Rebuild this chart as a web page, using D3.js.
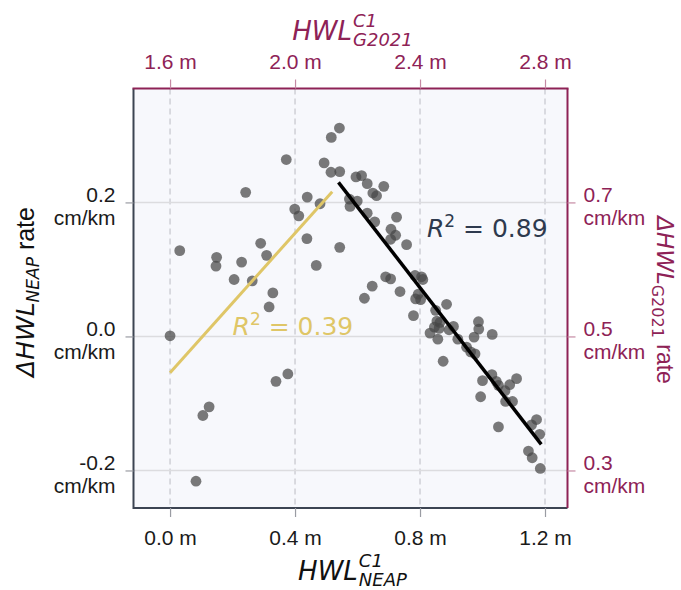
<!DOCTYPE html>
<html>
<head>
<meta charset="utf-8">
<script src="https://cdn.jsdelivr.net/npm/d3@7"></script>
<style>
  body { margin: 0; background: #fff; }
  text { font-family: "Liberation Sans", Arial, sans-serif; }
</style>
</head>
<body>
<div id="chart"></div>
<script>
// HWL (neap) vs. rate of change
const neapX = [0.000, 0.031, 0.083, 0.105, 0.125, 0.149, 0.147, 0.205, 0.229, 0.242,
  0.263, 0.290, 0.309, 0.317, 0.329, 0.339, 0.377, 0.372, 0.399, 0.412,
  0.439, 0.438, 0.468, 0.480, 0.493, 0.516, 0.542, 0.515, 0.543, 0.543,
  0.574, 0.576, 0.599, 0.595, 0.613, 0.631, 0.649, 0.661, 0.684, 0.631,
  0.655, 0.725, 0.707, 0.722, 0.706, 0.757, 0.690, 0.706, 0.647, 0.622,
  0.736, 0.784, 0.805, 0.809, 0.794, 0.786, 0.802, 0.885, 0.779, 0.850,
  0.854, 0.864, 0.846, 0.861, 0.832, 0.857, 0.893, 0.907, 0.987, 0.988,
  0.973, 1.031, 0.921, 0.949, 0.962, 0.976, 0.874, 1.030, 1.000, 1.044,
  1.051, 1.109, 1.087, 1.072, 0.994, 1.096, 1.074, 1.051, 1.173, 1.157,
  1.183, 1.147, 1.159, 1.185];
const neapY = [0.001, 0.128, -0.216, -0.118, -0.105, 0.118, 0.105, 0.085, 0.111, 0.215,
  0.083, 0.139, 0.121, 0.044, 0.065, -0.067, -0.056, 0.264, 0.190, 0.180,
  0.208, 0.146, 0.106, 0.198, 0.259, 0.297, 0.311, 0.245, 0.246, 0.133,
  0.205, 0.194, 0.202, 0.238, 0.240, 0.228, 0.214, 0.210, 0.224, 0.184,
  0.171, 0.178, 0.160, 0.151, 0.145, 0.137, 0.089, 0.086, 0.075, 0.057,
  0.067, 0.091, 0.089, 0.085, 0.063, 0.056, 0.055, 0.048, 0.031, 0.039,
  0.023, 0.021, 0.014, 0.012, 0.005, -0.004, 0.010, 0.015, 0.022, 0.011,
  -0.001, 0.003, -0.004, -0.016, -0.023, -0.026, -0.037, -0.057, -0.066, -0.067,
  -0.073, -0.063, -0.072, -0.081, -0.090, -0.097, -0.097, -0.135, -0.124, -0.132,
  -0.146, -0.171, -0.181, -0.197];

// regression lines (end points)
const lowFitX = [0.000, 0.519];
const lowFitY = [-0.054, 0.216];
const highFitX = [0.539, 1.188];
const highFitY = [0.230, -0.161];
const r2Values = ["0.39", "0.89"];

const bottomTicks = [0.0, 0.4, 0.8, 1.2];
const topTicks = [1.6, 2.0, 2.4, 2.8];
const leftTicks = [-0.2, 0.0, 0.2];
const rightTicks = [0.3, 0.5, 0.7];

const width = 681, height = 590;
const mLeft = 133.5, mRight = 567.5, mTop = 88.5, mBottom = 508;
const maroon = "#8e2256";
const slate = "#3c4452";

const x = d3.scaleLinear().domain([-0.117, 1.272]).range([mLeft, mRight]);
const xTop = d3.scaleLinear().domain([1.483, 2.872]).range([mLeft, mRight]);
const y = d3.scaleLinear().domain([-0.256, 0.370]).range([mBottom, mTop]);
const yRight = d3.scaleLinear().domain([0.244, 0.870]).range([mBottom, mTop]);

const svg = d3.select("#chart").append("svg")
  .attr("width", width).attr("height", height);

svg.append("rect")
  .attr("x", mLeft).attr("y", mTop)
  .attr("width", mRight - mLeft).attr("height", mBottom - mTop)
  .attr("fill", "#f7f8fc");

// grid
svg.append("g").selectAll("line").data(bottomTicks).join("line")
  .attr("x1", d => x(d)).attr("x2", d => x(d))
  .attr("y1", mTop).attr("y2", mBottom)
  .attr("stroke", "#cfd0d6").attr("stroke-width", 1.5)
  .attr("stroke-dasharray", "6,4");
svg.append("g").selectAll("line").data(leftTicks).join("line")
  .attr("x1", mLeft).attr("x2", mRight)
  .attr("y1", d => y(d)).attr("y2", d => y(d))
  .attr("stroke", "#dcdcdf").attr("stroke-width", 1.5);

// points
svg.append("g").selectAll("circle").data(neapX).join("circle")
  .attr("cx", d => x(d))
  .attr("cy", (d, i) => y(neapY[i]))
  .attr("r", 5.4)
  .attr("fill", "#474747")
  .attr("fill-opacity", 0.72);

// fits
const line = d3.line().x(d => x(d[0])).y(d => y(d[1]));
svg.append("path")
  .attr("d", line(d3.zip(lowFitX, lowFitY)))
  .attr("stroke", "#dfc667").attr("stroke-width", 3).attr("fill", "none");
svg.append("path")
  .attr("d", line(d3.zip(highFitX, highFitY)))
  .attr("stroke", "#000").attr("stroke-width", 3.5).attr("fill", "none");

// R^2 labels
function r2Label(px, py, val, color) {
  const t = svg.append("text")
    .attr("x", x(px)).attr("y", y(py))
    .attr("fill", color)
    .style("font-family", "'DejaVu Sans', sans-serif")
    .style("font-size", "25px");
  t.append("tspan").style("font-style", "italic").text("R");
  t.append("tspan").attr("dy", -10).style("font-size", "17px").text("2");
  t.append("tspan").attr("dy", 10).text(" = " + val);
}
r2Label(0.200, 0.002, r2Values[0], "#dfc667");
r2Label(0.822, 0.149, r2Values[1], "#2e3a4e");

// spines
svg.append("line").attr("x1", mLeft).attr("x2", mLeft).attr("y1", mTop).attr("y2", mBottom + 1)
  .attr("stroke", slate).attr("stroke-width", 2);
svg.append("line").attr("x1", mLeft).attr("x2", mRight).attr("y1", mBottom).attr("y2", mBottom)
  .attr("stroke", slate).attr("stroke-width", 2);
svg.append("line").attr("x1", mLeft - 1).attr("x2", mRight + 1).attr("y1", mTop).attr("y2", mTop)
  .attr("stroke", maroon).attr("stroke-width", 2);
svg.append("line").attr("x1", mRight).attr("x2", mRight).attr("y1", mTop).attr("y2", mBottom)
  .attr("stroke", maroon).attr("stroke-width", 2);

// axes
const num = d => d3.format(".1f")(d).replace("\u2212", "-");
const fmt = d => num(d) + " m";
function styleAxis(g, tickColor, textColor) {
  g.select(".domain").remove();
  g.selectAll(".tick line").attr("stroke", tickColor).attr("stroke-width", 1.2);
  g.selectAll(".tick text").attr("fill", textColor)
    .style("font-size", "21px").style("font-family", "'Liberation Sans', Arial, sans-serif");
}

svg.append("g").attr("transform", `translate(0,${mBottom})`)
  .call(d3.axisBottom(x).tickValues(bottomTicks).tickSize(9).tickPadding(13).tickFormat(fmt))
  .call(g => styleAxis(g, "#9a9ca3", "#1a1a1a"));

svg.append("g").attr("transform", `translate(0,${mTop})`)
  .call(d3.axisTop(xTop).tickValues(topTicks).tickSize(9).tickPadding(11).tickFormat(fmt))
  .call(g => styleAxis(g, "#c58aa4", maroon));

function twoLine(g) {
  g.selectAll(".tick text").each(function(d) {
    const t = d3.select(this).attr("dy", null);
    const xx = t.attr("x");
    t.text(null);
    t.append("tspan").attr("x", xx).attr("dy", "-1").text(num(d));
    t.append("tspan").attr("x", xx).attr("dy", "23").text("cm/km");
  });
}

svg.append("g").attr("transform", `translate(${mLeft},0)`)
  .call(d3.axisLeft(y).tickValues(leftTicks).tickSize(8).tickPadding(10))
  .call(g => styleAxis(g, "#9a9ca3", "#1a1a1a"))
  .call(twoLine);

svg.append("g").attr("transform", `translate(${mRight},0)`)
  .call(d3.axisRight(yRight).tickValues(rightTicks).tickSize(8).tickPadding(8))
  .call(g => styleAxis(g, "#c58aa4", maroon))
  .call(twoLine);

// axis titles with sub/superscripts
function mathTitle(cx, base, baseTxt, sup, sub, color) {
  const t = svg.append("text").attr("y", base).attr("fill", color)
    .style("font-family", "'DejaVu Sans', sans-serif").style("font-style", "italic");
  const b = t.append("tspan").style("font-size", "26px").text(baseTxt);
  const s1 = t.append("tspan").style("font-size", "18px").attr("dy", -13).text(sup);
  const s2 = t.append("tspan").style("font-size", "18px").attr("dy", 19).text(sub);
  const bw = b.node().getComputedTextLength();
  const w = bw + Math.max(s1.node().getComputedTextLength(), s2.node().getComputedTextLength());
  const x0 = cx - w / 2;
  t.attr("x", x0);
  b.attr("x", x0);
  s1.attr("x", x0 + bw + 1);
  s2.attr("x", x0 + bw + 1);
}
mathTitle(352, 580, "HWL", "C1", "NEAP", "#111");
mathTitle(352, 40, "HWL", "C1", "G2021", maroon);

function sideTitle(tx, ty, rot, sub, color, size) {
  const t = svg.append("text")
    .attr("transform", `translate(${tx},${ty}) rotate(${rot})`)
    .attr("text-anchor", "middle").attr("fill", color)
    .style("font-size", size + "px");
  t.append("tspan").style("font-family", "'DejaVu Sans', sans-serif")
    .style("font-style", "italic").text("ΔHWL");
  t.append("tspan").style("font-family", "'DejaVu Sans', sans-serif")
    .style("font-style", rot < 0 ? "italic" : "normal")
    .style("font-size", Math.round(size * 0.68) + "px").attr("dy", 5).text(sub);
  t.append("tspan").attr("dy", -5).text(" rate");
}
sideTitle(34, 292, -90, "NEAP", "#111", 25);
sideTitle(657, 300, 90, "G2021", maroon, 23);
</script>
</body>
</html>
